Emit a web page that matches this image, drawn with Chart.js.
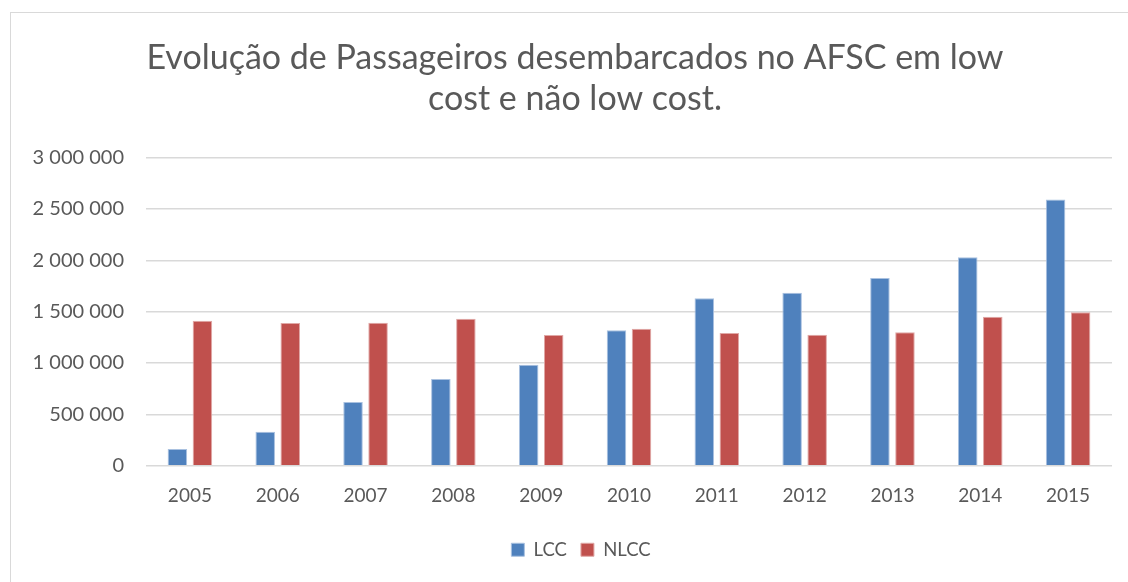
<!DOCTYPE html>
<html>
<head>
<meta charset="utf-8">
<script src="https://cdn.jsdelivr.net/npm/chart.js@4/dist/chart.umd.min.js"></script>
<style>
  html, body { margin: 0; padding: 0; background: #fff; }
  #frame { position: absolute; left: 10px; top: 12px; width: 1200px; height: 700px;
           border-left: 1.5px solid #d9d9d9; border-top: 1.5px solid #d9d9d9; }
  #wrap { position: absolute; left: 0; top: 0; width: 1128px; height: 582px; }
</style>
</head>
<body>
<div id="frame"></div>
<div id="wrap"><canvas id="myChart"></canvas></div>
<script>
const years = ['2005','2006','2007','2008','2009','2010','2011','2012','2013','2014','2015'];
const lcc = [163000, 331000, 620000, 844000, 984000, 1318000, 1630000, 1685000, 1828000, 2029000, 2591000];
const nlcc = [1412000, 1390000, 1393000, 1432000, 1273000, 1334000, 1292000, 1276000, 1299000, 1451000, 1493000];
const titleLines = ['Evolução de Passageiros desembarcados no AFSC em low', 'cost e não low cost.'];

const grey = '#595959';
const fontFam = 'Lato, "Open Sans", sans-serif';

// title and legend sit a bit right of canvas centre in the original
const shiftBlocks = {
    id: 'shiftBlocks',
    afterLayout(chart) {
        chart.titleBlock.left += 32;
        chart.legend.left += 44;
    }
};

const data = {
    labels: years,
    datasets: [{
        label: 'LCC',
        backgroundColor: '#4f81bd',
        borderColor: '#a9c1e0',
        borderWidth: 1,
        data: lcc,
    }, {
        label: 'NLCC',
        backgroundColor: '#c0504d',
        borderColor: '#e0a8a6',
        borderWidth: 1,
        data: nlcc,
    }]
};

const config = {
    type: 'bar',
    data: data,
    plugins: [shiftBlocks],
    options: {
        responsive: true,
        maintainAspectRatio: false,
        animation: false,
        datasets: {
            bar: { barPercentage: 0.78, categoryPercentage: 0.57 }
        },
        layout: { padding: { left: 6, right: 16, top: 38, bottom: 13 } },
        plugins: {
            title: {
                display: true,
                text: titleLines,
                color: grey,
                font: { family: fontFam, size: 34, weight: 'normal' },
                lineHeight: 1.3,
                padding: { top: 0, bottom: 38 }
            },
            legend: {
                position: 'bottom',
                labels: {
                    color: grey,
                    font: { family: fontFam, size: 18.5 },
                    boxWidth: 13,
                    boxHeight: 13,
                    padding: 14
                }
            },
            tooltip: { enabled: false }
        },
        scales: {
            x: {
                grid: { display: false, drawTicks: false },
                border: { display: false },
                ticks: { color: grey, font: { family: fontFam, size: 19 }, padding: 19 }
            },
            y: {
                min: 0,
                max: 3000000,
                afterFit: s => { s.width = 140; },
                grid: { color: '#d9d9d9', lineWidth: 1.5, drawTicks: false },
                border: { display: false },
                ticks: {
                    stepSize: 500000,
                    color: grey,
                    font: { family: fontFam, size: 20 },
                    padding: 22,
                    callback: v => v.toLocaleString('en-US').replace(/,/g, ' ')
                }
            }
        }
    }
};

const myChart = new Chart(document.getElementById('myChart'), config);
</script>
</body>
</html>
